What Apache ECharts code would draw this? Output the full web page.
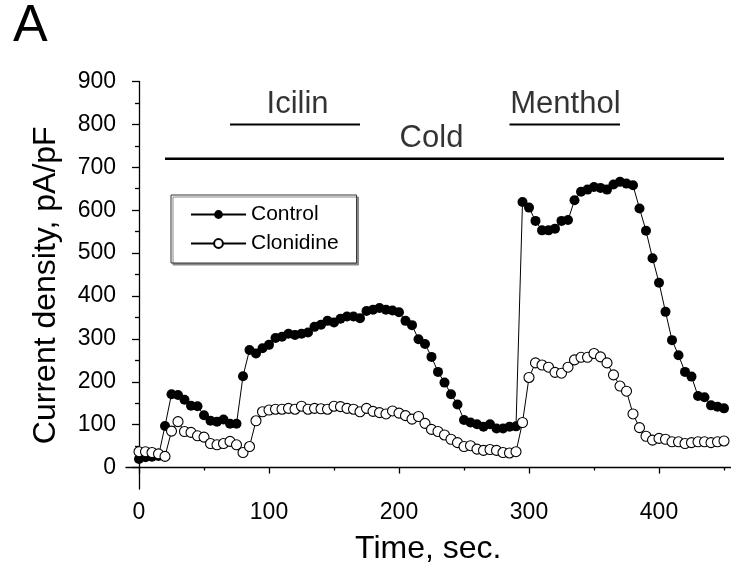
<!DOCTYPE html>
<html>
<head>
<meta charset="utf-8">
<script src="https://cdn.jsdelivr.net/npm/echarts@6/dist/echarts.min.js"></script>
<style>
  html, body { margin: 0; padding: 0; background: #fff; }
  #chart { width: 731px; height: 573px; }
</style>
</head>
<body>
<div id="chart"></div>
<script>
// Sampling times (s)
const times = [
  0, 5, 10, 15, 20, 25, 30, 35, 40, 45,
  50, 55, 60, 65, 70, 75, 80, 85, 90, 95,
  100, 105, 110, 115, 120, 125, 130, 135, 140, 145,
  150, 155, 160, 165, 170, 175, 180, 185, 190, 195,
  200, 205, 210, 215, 220, 225, 230, 235, 240, 245,
  250, 255, 260, 265, 270, 275, 280, 285, 290, 295,
  300, 305, 310, 315, 320, 325, 330, 335, 340, 345,
  350, 355, 360, 365, 370, 375, 380, 385, 390, 395,
  400, 405, 410, 415, 420, 425, 430, 435, 440, 445,
  450
];

// Current density, pA/pF
const control = [
  20, 24, 25, 27, 97, 171, 169, 158, 144, 143,
  122, 109, 107, 112, 102, 102, 213, 274, 266, 278,
  286, 302, 305, 312, 309, 312, 315, 328, 333, 342,
  338, 347, 352, 352, 348, 365, 368, 372, 368, 366,
  362, 342, 332, 299, 288, 258, 223, 198, 171, 147,
  111, 105, 101, 95, 101, 91, 91, 95, 96, 619,
  606, 575, 553, 553, 557, 575, 577, 623, 643, 648,
  654, 652, 648, 660, 666, 662, 658, 604, 552, 488,
  431, 363, 297, 262, 223, 212, 167, 164, 145, 142,
  138
];

const clonidine = [
  37, 37, 35, 32, 26, 85, 107, 84, 82, 74,
  71, 56, 53, 56, 61, 53, 35, 49, 109, 130,
  134, 136, 136, 138, 136, 143, 136, 138, 137, 136,
  143, 142, 138, 136, 130, 138, 131, 128, 125, 132,
  127, 121, 113, 119, 103, 89, 84, 76, 66, 58,
  49, 51, 43, 40, 42, 40, 35, 34, 37, 105,
  210, 244, 239, 234, 222, 220, 234, 251, 257, 257,
  266, 258, 244, 216, 190, 178, 125, 93, 73, 64,
  68, 66, 60, 60, 56, 58, 60, 60, 58, 60,
  62
];

// Stimulus application periods
const stimNames = ['Cold', 'Icilin', 'Menthol'];
const stimStart = [20, 70, 285];
const stimEnd = [450, 170, 370];
const stimLevel = [720, 800, 800];
const stimLabelX = [225, 122, 328];

// Axis ticks
const xMajor = [0, 100, 200, 300, 400];
const xMinor = [50, 150, 250, 350, 450];
const yMajor = [0, 100, 200, 300, 400, 500, 600, 700, 800, 900];
const yMinor = [50, 150, 250, 350, 450, 550, 650, 750, 850];

const FONT = '"Liberation Sans", Arial, Helvetica, sans-serif';
const pairs = (xs, ys) => xs.map((x, i) => [x, ys[i]]);

const chart = echarts.init(document.getElementById('chart'), null, { renderer: 'canvas' });

const stimSeries = [];
stimNames.forEach((name, i) => {
  stimSeries.push({
    type: 'line',
    name: name + ' period',
    xAxisIndex: 0, yAxisIndex: 0,
    data: [[stimStart[i], stimLevel[i]], [stimEnd[i], stimLevel[i]]],
    symbol: 'none',
    lineStyle: { color: '#000', width: name === 'Cold' ? 2.5 : 2 },
    silent: true,
    z: 1
  });
  stimSeries.push({
    type: 'scatter',
    name: name + ' label',
    xAxisIndex: 0, yAxisIndex: 0,
    data: [[stimLabelX[i], stimLevel[i]]],
    symbolSize: 1,
    itemStyle: { color: 'transparent' },
    label: {
      show: true,
      position: 'top',
      distance: 4,
      formatter: name,
      color: '#000',
      fontSize: 31,
      fontFamily: FONT
    },
    silent: true,
    z: 1
  });
});

const axisLineStyle = { show: true, lineStyle: { color: '#000', width: 1.3 } };

chart.setOption({
  animation: false,
  backgroundColor: '#fff',
  grid: { left: 126, right: 0.5, top: 81.5, bottom: 84, containLabel: false },
  graphic: [{
    type: 'text',
    left: 13, top: 1,
    style: { text: 'A', fontSize: 52, fontFamily: FONT, fill: '#000' }
  }],
  legend: {
    data: ['Control', 'Clonidine'],
    orient: 'vertical',
    left: 171, top: 195,
    padding: [9, 18, 9, 19],
    itemWidth: 55,
    itemHeight: 11,
    itemGap: 8,
    backgroundColor: '#fff',
    borderColor: '#333',
    borderWidth: 1,
    shadowColor: '#888',
    shadowOffsetX: 2,
    shadowOffsetY: 2,
    shadowBlur: 0,
    textStyle: { fontSize: 21, color: '#000', fontFamily: FONT },
    selectedMode: false
  },
  xAxis: [{
    type: 'value', min: -10, max: 455,
    position: 'bottom',
    axisLine: axisLineStyle,
    axisTick: { show: true, customValues: xMajor, length: 6, lineStyle: { color: '#000', width: 1.3 } },
    axisLabel: { show: true, customValues: xMajor, margin: 12, fontSize: 23, color: '#000', fontFamily: FONT },
    splitLine: { show: false },
    name: 'Time, sec.',
    nameLocation: 'middle',
    nameGap: 44,
    nameTextStyle: { fontSize: 32, color: '#000', fontFamily: FONT }
  }, {
    type: 'value', min: -10, max: 455,
    position: 'bottom',
    axisLine: { show: false },
    axisTick: { show: true, customValues: xMinor, length: 3, lineStyle: { color: '#000', width: 1.3 } },
    axisLabel: { show: false },
    splitLine: { show: false }
  }],
  yAxis: [{
    type: 'value', min: -50, max: 900,
    position: 'left',
    axisLine: axisLineStyle,
    axisTick: { show: true, customValues: yMajor, length: 7, lineStyle: { color: '#000', width: 1.3 } },
    axisLabel: { show: true, customValues: yMajor, margin: 10, fontSize: 23, color: '#000', fontFamily: FONT },
    splitLine: { show: false },
    name: 'Current density, pA/pF',
    nameLocation: 'middle',
    nameRotate: 90,
    nameGap: 64,
    nameTextStyle: { fontSize: 32, color: '#000', fontFamily: FONT }
  }, {
    type: 'value', min: -50, max: 900,
    position: 'left',
    axisLine: { show: false },
    axisTick: { show: true, customValues: yMinor, length: 4, lineStyle: { color: '#000', width: 1.3 } },
    axisLabel: { show: false },
    splitLine: { show: false }
  }],
  series: [
    ...stimSeries,
    {
      type: 'line',
      name: 'Control',
      xAxisIndex: 0, yAxisIndex: 0,
      data: pairs(times, control),
      symbol: 'circle',
      symbolSize: 10,
      showAllSymbol: true,
      itemStyle: { color: '#000' },
      lineStyle: { color: '#000', width: 1 },
      z: 3
    },
    {
      type: 'line',
      name: 'Clonidine',
      xAxisIndex: 0, yAxisIndex: 0,
      data: pairs(times, clonidine),
      symbol: 'circle',
      symbolSize: 10,
      showAllSymbol: true,
      itemStyle: { color: '#fff', borderColor: '#000', borderWidth: 1.1 },
      lineStyle: { color: '#000', width: 1 },
      z: 4
    }
  ]
});
</script>
</body>
</html>
